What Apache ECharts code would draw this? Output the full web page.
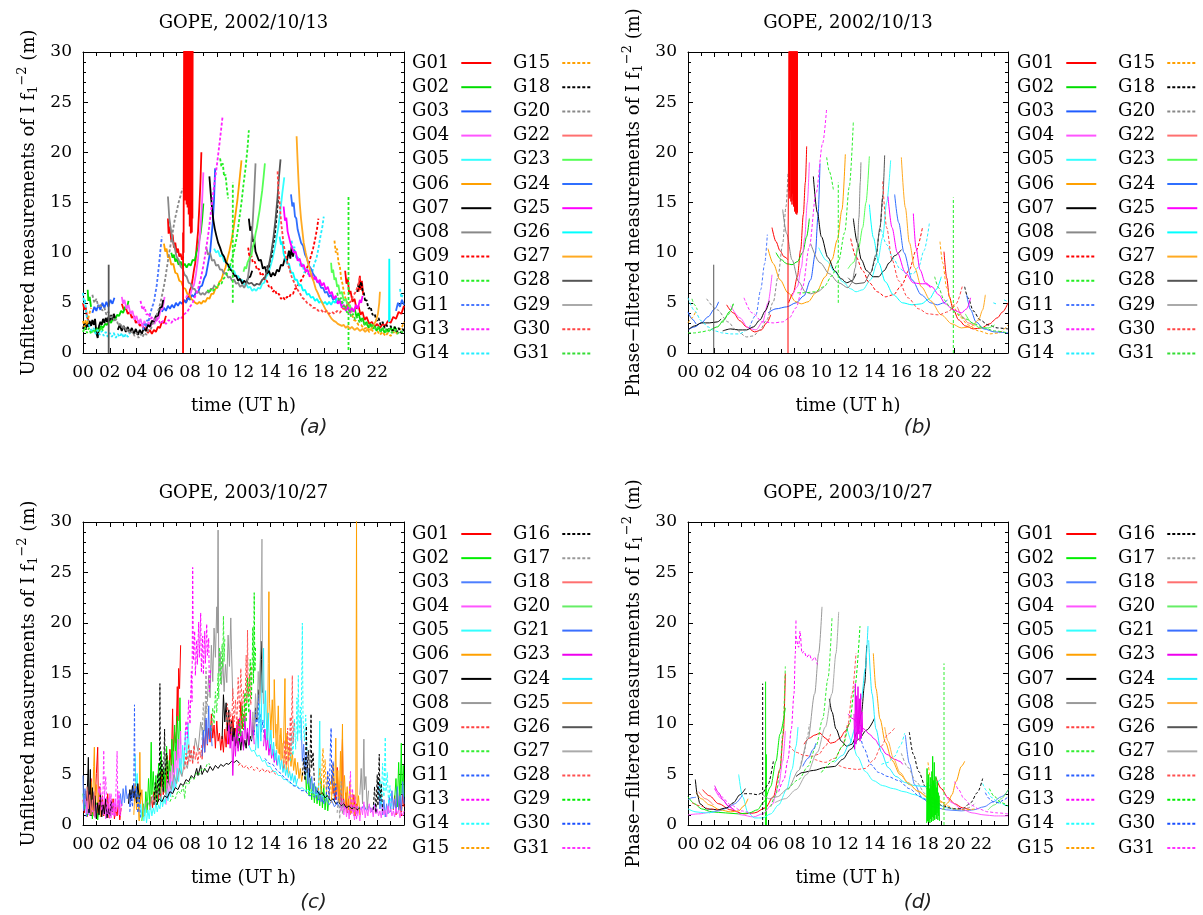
<!DOCTYPE html>
<html><head><meta charset="utf-8">
<script src="https://cdn.jsdelivr.net/npm/echarts@6/dist/echarts.min.js"></script>
<style>html,body{margin:0;padding:0;background:#fff}#c{width:1203px;height:915px}</style>
</head><body><div id="c"></div>
<script>
// ---------------- tick labels / texts ----------------
const xTickLabels = ['00','02','04','06','08','10','12','14','16','18','20','22'];
const titles = ['GOPE, 2002/10/13','GOPE, 2002/10/13','GOPE, 2003/10/27','GOPE, 2003/10/27'];
const yNames = ['Unfiltered measurements of I f{sub|1}{sup|−2} (m)','Phase−filtered measurements of I f{sub|1}{sup|−2} (m)','Unfiltered measurements of I f{sub|1}{sup|−2} (m)','Phase−filtered measurements of I f{sub|1}{sup|−2} (m)'];
const tags = ['(a)','(b)','(c)','(d)'];
const satsAB = ['G01','G02','G03','G04','G05','G06','G07','G08','G09','G10','G11','G13','G14','G15','G18','G20','G22','G23','G24','G25','G26','G27','G28','G29','G30','G31'];
const satsCD = ['G01','G02','G03','G04','G05','G06','G07','G08','G09','G10','G11','G13','G14','G15','G16','G17','G18','G20','G21','G23','G24','G25','G26','G27','G28','G29','G30','G31'];

// ---------------- panel (b): 2002/10/13 phase-filtered ----------------
const B_G01 = [
 [[2.9,4.8],[3.4,4.0],[3.9,3.2],[4.4,2.6],[5.0,2.1],[5.5,2.3],[5.9,3.0],[6.2,3.8]],
 [[6.3,12.5],[6.6,11.1],[6.9,10.2],[7.2,9.6],[7.5,9.3]],
 [[7.55,5.0],[7.9,6.0],[8.2,7.6],[8.45,10.3],[8.65,13.8],[8.8,17.0],[8.9,20.6]],
 [[19.2,10.1],[19.4,7.5],[19.6,5.6],[19.9,4.3],[20.3,3.3],[20.8,2.7],[21.4,2.4],[22.0,2.5],[22.6,2.9],[23.2,3.5],[23.6,4.1],[24.0,5.0]]
];
const B_BAND = [[7.50,0.0],[7.50,9.3],[7.52,9.3],[7.58,31],[7.60,16.2],[7.62,31],[7.64,15.4],[7.66,31],[7.68,22.2],[7.70,31],[7.72,15.1],[7.74,31],[7.76,15.6],[7.78,31],[7.80,14.8],[7.82,31],[7.84,15.9],[7.86,31],[7.88,15.2],[7.90,31],[7.92,14.6],[7.94,31],[7.96,15.3],[7.98,31],[8.00,14.1],[8.02,31],[8.04,14.9],[8.06,31],[8.08,13.9],[8.10,31],[8.12,14.3],[8.14,31],[8.16,13.8],[8.18,31],[8.20,14.0],[8.21,31]];
const B_G02 = [
 [[1.6,2.2],[2.2,2.6],[2.7,3.3],[3.1,4.1],[3.4,4.9]],
 [[6.6,10.0],[7.0,9.3],[7.4,8.9],[7.8,8.8],[8.2,9.1],[8.6,10.0],[8.9,11.6],[9.1,13.4]]
];
const B_G03 = [
 [[0,2.3],[0.5,2.6],[1.0,3.0],[1.5,3.6],[2.0,4.4],[2.3,5.1]],
 [[0,4.1],[0.3,3.4],[0.6,2.9]],
 [[6.0,4.0],[6.6,4.4],[7.4,4.6],[8.1,5.0],[8.7,5.7],[9.2,7.3],[9.55,9.9],[9.75,13.6],[9.9,18.9]]
];
const B_G04 = [
 [[3.2,4.7],[3.9,3.5],[4.5,2.5],[5.1,2.3],[5.6,3.1],[6.0,5.0],[6.3,7.8]],
 [[7.8,5.6],[8.2,6.6],[8.5,8.5],[8.75,11.5],[8.95,15.0],[9.1,19.0]]
];
const B_G05 = [[[9.8,10.5],[10.4,9.2],[11.0,8.1],[11.6,7.1],[12.2,6.4],[12.6,6.1],[13.1,6.3],[13.7,7.3],[14.2,9.0],[14.6,11.5],[14.9,15.0],[15.2,19.2]]];
const B_G06 = [[[6.0,10.4],[6.4,8.9],[6.9,7.3],[7.5,6.0],[8.1,5.1],[8.5,4.9],[9.0,5.1],[9.6,6.0],[10.3,7.6],[10.8,9.3],[11.2,11.3],[11.55,14.3],[11.8,19.8]]];
const B_G07 = [
 [[0,2.3],[0.5,2.7],[1.0,3.0],[1.6,3.0],[2.2,3.1],[2.5,3.4]],
 [[2.6,2.2],[3.2,2.4],[3.8,2.3],[4.4,2.3],[4.9,2.6],[5.4,3.3],[5.8,4.2],[6.1,5.2]],
 [[9.4,17.6],[9.7,14.0],[10.0,11.6],[10.5,9.5],[11.0,8.2],[11.5,7.4],[11.9,7.0],[12.3,7.2],[12.6,7.9]],
 [[12.4,13.4],[12.7,11.0],[13.0,9.3],[13.4,8.2],[13.9,7.6],[14.3,7.6],[14.7,8.2],[15.1,9.0],[15.5,9.7],[16.0,10.3]]
];
const B_G08 = [
 [[7.1,14.3],[7.4,11.9],[7.8,9.3],[8.3,7.1],[8.8,6.1],[9.2,5.9],[9.7,6.1],[10.2,6.6]],
 [[9.2,10.9],[9.9,9.0],[10.6,7.9],[11.3,7.0],[12.0,6.5],[12.3,7.0],[12.55,8.5],[12.7,10.5],[12.82,13.5],[12.92,17.0],[12.97,19.0]]
];
const B_G09 = [[[12.2,11.4],[12.6,9.6],[13.1,8.2],[13.6,7.0],[14.2,6.1],[14.8,5.6],[15.4,5.8],[16.0,6.7],[16.6,8.3],[17.1,10.2],[17.6,12.6]]];
const B_G10 = [
 [[0,2.0],[0.5,2.0],[1.0,2.1],[1.6,2.3]],
 [[0.3,5.4],[0.5,4.8],[0.7,4.3]],
 [[10.4,19.5],[10.6,18.1],[10.9,16.3]],
 [[11.27,5.0],[11.27,17.0]],
 [[8.2,6.0],[8.8,6.0],[9.5,6.1],[10.2,6.6],[10.8,7.7],[11.3,9.2],[11.75,12.0],[12.1,16.6],[12.4,23.0]],
 [[19.9,0],[19.9,15.5]]
];
const B_G11 = [[[4.6,2.5],[5.1,3.8],[5.45,6.3],[5.75,8.9],[5.95,11.8]]];
const B_G13 = [[[4.2,5.5],[4.8,4.0],[5.6,3.1],[6.4,3.0],[7.1,3.1],[7.6,3.5],[8.1,4.5],[8.6,6.6],[9.1,10.6],[9.6,15.9],[10.1,20.9],[10.4,24.4]]];
const B_G14 = [
 [[0,5.5],[0.5,4.2],[1.0,3.2],[1.5,2.6],[2.0,2.2],[2.6,2.0],[3.2,1.9],[3.8,1.9],[4.3,2.2]],
 [[14.5,12.3],[14.9,10.8],[15.4,9.4],[15.9,8.4],[16.4,7.9],[16.9,7.9],[17.3,8.6],[17.7,10.2],[18.1,12.9]],
 [[22.9,5.0],[23.1,4.9]],
 [[23.7,5.3],[24.0,5.1]]
];
const B_G15 = [
 [[0,3.0],[0.3,3.5],[0.6,4.2]],
 [[18.9,11.1],[19.1,9.0],[19.4,6.5],[19.8,4.9],[20.4,3.6],[21.0,2.8],[21.8,2.2],[22.6,1.9],[23.3,2.0],[24.0,2.8]]
];
const B_G18 = [
 [[13.8,8.2],[14.1,9.5],[14.35,12.0],[14.6,15.7]],
 [[20.75,6.6],[21.0,5.5],[21.4,4.2],[21.9,3.3],[22.5,2.8],[23.2,2.5],[24.0,2.4]]
];
const B_G20 = [[[1.4,5.4],[2.2,4.3],[3.0,3.1],[3.6,2.3],[4.4,1.6],[4.9,1.7],[5.4,2.3],[5.9,3.3],[6.4,5.1],[6.75,7.6],[7.1,10.9],[7.35,14.6],[7.5,17.9]]];
const B_G22 = [[[20.2,4.6],[20.6,3.6],[21.0,3.0],[21.5,2.7]]];
const B_G23 = [
 [[12.0,8.4],[12.4,9.0],[12.8,10.5],[13.1,12.5],[13.35,15.0],[13.6,19.6]],
 [[20.8,3.9],[21.3,3.0],[21.9,2.5],[22.5,2.5],[23.0,2.8]]
];
const B_G24 = [
 [[15.5,15.8],[15.8,13.0],[16.2,10.0],[16.8,7.3],[17.5,5.8],[18.2,5.0],[18.7,4.8],[19.2,5.0],[19.45,5.3]],
 [[20.9,5.8],[21.2,4.3],[21.6,3.1],[22.2,2.4],[23.0,2.1],[24.0,2.0]]
];
const B_G25 = [
 [[15.0,15.6],[15.3,12.5],[15.7,10.0],[16.3,8.0],[16.9,7.0],[17.4,6.9],[17.8,6.9],[18.2,6.5]],
 [[16.9,13.9],[17.1,10.5],[17.4,8.3],[17.8,7.0],[18.3,6.6],[18.8,5.8],[19.3,4.9],[19.9,4.3],[20.5,4.0],[20.9,4.4],[21.2,5.5]]
];
const B_G26 = [[[13.6,14.8],[13.9,11.5],[14.3,9.0],[14.8,7.1],[15.4,5.8],[16.1,5.0],[16.8,4.8],[17.5,4.9],[18.1,5.4],[18.6,6.3],[19.0,7.6]]];
const B_G27 = [[[16.0,19.5],[16.3,14.5],[16.6,11.0],[17.0,8.5],[17.5,6.6],[18.2,5.2],[19.0,3.8],[19.8,2.9],[20.5,2.5],[21.2,2.6],[21.8,3.3],[22.1,4.3],[22.3,5.8]]];
const B_G28 = [
 [[1.93,0],[1.93,8.8]],
 [[12.0,7.5],[12.6,6.9],[13.2,7.0],[13.7,8.0],[14.1,9.8],[14.4,12.5],[14.6,15.5],[14.75,19.7]]
];
const B_G30 = [[[14.6,17.1],[14.9,12.5],[15.3,9.3],[15.8,7.2],[16.5,5.5],[17.3,4.4],[18.0,3.9],[18.8,3.8],[19.5,4.1],[20.1,4.9],[20.6,6.8]]];
const B_G31 = [
 [[2.6,3.0],[3.0,3.8],[3.4,4.9]],
 [[18.5,7.6],[18.8,6.5],[19.2,5.3],[19.7,4.5],[20.2,3.9],[20.8,3.4],[21.5,2.9],[22.2,2.5],[23.0,2.2],[24.0,2.0]]
];

// ---------------- panel (a): 2002/10/13 unfiltered ----------------
const A_G01 = [
 [[0,5.0],[0.1,4.3],[0.2,4.6],[0.3,3.6],[0.45,3.1]],
 [[2.9,4.9],[3.05,4.3],[3.2,4.5],[3.35,3.9],[3.5,4.1],[3.65,3.5],[3.8,3.7],[3.95,3.0],[4.1,3.2],[4.25,2.7],[4.4,2.9],[4.55,2.4],[4.7,2.6],[4.85,2.0],[5.0,2.3],[5.15,1.9],[5.3,2.3],[5.45,2.1],[5.6,2.6],[5.75,2.5],[5.9,3.1],[6.05,3.0],[6.2,3.7]],
 [[6.35,13.4],[6.4,11.9],[6.5,12.6],[6.6,11.2],[6.7,11.8],[6.8,10.5],[6.9,11.0],[7.0,10.0],[7.1,10.4],[7.2,9.6],[7.3,9.9],[7.4,9.3],[7.5,9.6]],
 [[7.6,5.2],[7.7,5.0],[7.8,5.6],[7.9,5.4],[8.0,6.3],[8.1,6.6],[8.2,7.4],[8.3,8.3],[8.4,9.0],[8.5,10.6],[8.6,12.1],[8.7,14.6],[8.78,17.0],[8.85,20.0]],
 [[19.6,8.2],[19.7,6.9],[19.8,7.4],[19.9,5.9],[20.0,6.2],[20.15,5.1],[20.3,5.4],[20.45,4.4],[20.6,4.7],[20.75,3.8],[20.9,4.1],[21.05,3.3],[21.2,3.6],[21.4,2.9],[21.6,3.1],[21.8,2.6],[22.0,2.9],[22.2,2.5],[22.4,2.9],[22.6,2.7],[22.8,3.2],[23.0,3.0],[23.2,3.6],[23.4,3.4],[23.6,4.1],[23.8,3.9],[24.0,4.7]],
 [[20.6,6.1],[20.7,7.7],[20.75,6.3],[20.85,7.2],[20.95,5.8]]
];
const A_BAND = [[7.48,0],[7.48,12.0],[7.52,10],[7.56,31],[7.58,15.6],[7.60,31],[7.62,16.5],[7.64,31],[7.66,15.2],[7.68,31],[7.70,16.0],[7.72,31],[7.74,14.8],[7.76,31],[7.78,15.9],[7.80,31],[7.82,14.5],[7.84,31],[7.86,15.1],[7.88,31],[7.90,13.8],[7.92,31],[7.94,14.2],[7.96,31],[7.98,12.6],[8.00,31],[8.02,13.1],[8.04,31],[8.06,11.9],[8.08,31],[8.10,12.5],[8.12,31],[8.14,12.0],[8.16,31],[8.18,13.4],[8.20,31]];
const A_G02 = [
 [[0.35,6.3],[0.4,5.2],[0.5,5.6],[0.6,4.6]],
 [[0.9,2.1],[1.05,2.5],[1.2,2.2],[1.35,2.7],[1.5,2.5],[1.65,2.9],[1.8,2.8],[1.95,3.2],[2.1,3.0],[2.25,3.5],[2.4,3.3],[2.55,3.8],[2.7,3.7],[2.85,4.2],[3.0,4.0],[3.15,4.6],[3.3,4.5],[3.4,5.2]],
 [[6.6,10.0],[6.7,9.5],[6.8,9.8],[6.9,9.1],[7.0,9.4],[7.15,8.8],[7.3,9.1],[7.45,8.6],[7.6,8.9],[7.75,8.5],[7.9,8.9],[8.05,8.7],[8.2,9.3],[8.35,9.2],[8.5,10.1],[8.6,10.4],[8.7,11.3],[8.8,12.0],[8.9,13.2],[9.0,14.9]],
 [[20.3,4.5],[20.45,3.6],[20.6,4.0],[20.75,3.2],[20.9,3.5],[21.05,2.8],[21.2,3.1],[21.35,2.5],[21.5,2.9],[21.65,2.4],[21.8,2.7],[21.95,2.2],[22.1,2.6],[22.25,2.1],[22.4,2.5],[22.55,2.0],[22.7,2.4],[22.85,2.1],[23.0,2.5],[23.15,2.2],[23.3,2.6],[23.45,2.3]]
];
const A_G03 = [
 [[0.7,4.0],[0.85,4.6],[1.0,4.2],[1.15,4.8],[1.3,4.3],[1.45,5.0],[1.6,4.5],[1.75,5.1],[1.9,4.6],[2.05,5.3],[2.2,4.9],[2.35,5.5]],
 [[5.9,4.1],[6.05,4.5],[6.2,4.2],[6.35,4.7],[6.5,4.4],[6.65,4.8],[6.8,4.5],[6.95,5.0],[7.1,4.7],[7.25,5.1],[7.4,4.9],[7.55,5.3],[7.7,5.0],[7.85,5.5],[8.0,5.3],[8.15,5.8],[8.3,5.6],[8.45,6.1],[8.6,6.0],[8.75,6.6],[8.9,6.7],[9.05,7.4],[9.2,7.8],[9.35,8.9],[9.5,10.0],[9.6,11.5],[9.7,13.0],[9.8,15.4],[9.88,18.4]]
];
const A_G04 = [
 [[2.9,5.6],[3.0,4.9],[3.1,5.3],[3.25,4.4],[3.4,4.8],[3.55,3.9],[3.7,4.2],[3.85,3.3],[4.0,3.7],[4.15,2.9],[4.3,3.4],[4.45,2.6],[4.6,3.2],[4.75,2.5],[4.9,3.1],[5.05,2.6],[5.2,3.2],[5.35,2.9],[5.5,3.6],[5.65,3.4],[5.8,4.3],[5.95,4.4],[6.1,5.6]],
 [[7.7,5.5],[7.85,5.9],[8.0,5.7],[8.15,6.4],[8.3,6.8],[8.45,7.9],[8.6,9.4],[8.7,11.0],[8.8,12.8],[8.9,15.0],[9.0,18.0]]
];
const A_G05 = [[[9.8,10.4],[9.95,10.0],[10.1,10.2],[10.25,9.6],[10.4,9.8],[10.55,9.1],[10.7,9.2],[10.85,8.6],[11.0,8.7],[11.15,8.1],[11.3,8.2],[11.45,7.6],[11.6,7.7],[11.75,7.2],[11.9,7.3],[12.05,6.8],[12.2,6.9],[12.35,6.5],[12.5,6.6],[12.65,6.2],[12.8,6.4],[12.95,6.2],[13.1,6.5],[13.25,6.4],[13.4,6.9],[13.55,7.0],[13.7,7.6],[13.85,7.9],[14.0,8.6],[14.15,9.3],[14.3,10.2],[14.45,11.3],[14.6,12.5],[14.75,14.1],[14.9,15.9],[15.05,17.5]]];
const A_G06 = [[[6.05,10.9],[6.15,10.1],[6.25,10.4],[6.35,9.5],[6.45,9.7],[6.6,8.8],[6.75,8.9],[6.9,8.0],[7.05,7.9],[7.2,7.2],[7.35,7.1],[7.5,6.5],[7.65,6.4],[7.8,5.9],[7.95,5.8],[8.1,5.4],[8.25,5.2],[8.4,5.0],[8.55,4.9],[8.7,5.1],[8.85,4.9],[9.0,5.2],[9.15,5.1],[9.3,5.5],[9.45,5.4],[9.6,5.9],[9.75,5.9],[9.9,6.4],[10.05,6.5],[10.2,7.1],[10.35,7.3],[10.5,8.0],[10.65,8.5],[10.8,9.4],[10.95,10.2],[11.1,11.2],[11.25,12.4],[11.4,13.8],[11.55,15.3],[11.7,17.2],[11.85,19.2]]];
const A_G07 = [
 [[0,2.4],[0.1,2.9],[0.2,2.3],[0.3,3.0],[0.4,2.6],[0.5,3.2],[0.6,2.7],[0.7,3.3],[0.8,2.8],[0.9,3.4],[1.0,2.0],[1.1,1.5],[1.2,2.7],[1.3,3.1],[1.4,2.8],[1.5,3.4],[1.6,3.0],[1.7,3.5],[1.8,3.1],[1.9,3.6],[2.0,3.2],[2.1,3.8],[2.2,3.3],[2.3,3.9],[2.4,3.5]],
 [[2.6,2.3],[2.75,2.8],[2.9,2.2],[3.05,2.7],[3.2,2.1],[3.35,2.6],[3.5,2.0],[3.65,2.5],[3.8,1.9],[3.95,2.4],[4.1,1.8],[4.25,2.3],[4.4,1.9],[4.55,2.5],[4.7,2.2],[4.85,2.8],[5.0,2.6],[5.15,3.2],[5.3,3.1],[5.45,3.7],[5.6,3.7],[5.75,4.5],[5.9,4.6],[6.0,5.3]],
 [[9.45,17.6],[9.55,15.9],[9.65,14.4],[9.75,13.2],[9.85,12.4],[9.95,11.8],[10.1,11.0],[10.25,10.5],[10.4,9.9],[10.55,9.6],[10.7,9.0],[10.85,8.8],[11.0,8.3],[11.15,8.2],[11.3,7.7],[11.45,7.7],[11.6,7.2],[11.75,7.4],[11.9,6.9],[12.05,7.2],[12.2,7.0],[12.35,7.5],[12.5,7.6],[12.65,8.2]],
 [[12.4,13.4],[12.5,12.2],[12.6,12.6],[12.7,11.1],[12.8,11.3],[12.9,10.1],[13.0,10.2],[13.15,9.2],[13.3,9.3],[13.45,8.4],[13.6,8.6],[13.75,7.9],[13.9,8.2],[14.05,7.6],[14.2,8.0],[14.35,7.7],[14.5,8.3],[14.65,8.1],[14.8,8.8],[14.95,8.7],[15.1,9.5],[15.25,9.2],[15.4,10.2],[15.5,9.4],[15.6,10.6],[15.7,9.6],[15.8,10.3]]
];
const A_G08 = [
 [[6.35,15.6],[6.45,13.5],[6.55,12.5],[6.7,11.2],[6.85,10.5],[7.0,9.6],[7.15,9.3],[7.3,8.6],[7.45,8.4],[7.6,7.8],[7.75,7.6],[7.9,7.0],[8.05,6.9],[8.2,6.4],[8.35,6.4],[8.5,6.0],[8.65,6.1],[8.8,5.8],[8.95,6.0],[9.1,5.8],[9.25,6.1],[9.4,6.0],[9.55,6.4],[9.7,6.4],[9.85,6.8]],
 [[9.2,10.6],[9.35,9.8],[9.5,10.0],[9.65,9.2],[9.8,9.3],[9.95,8.7],[10.1,8.8],[10.25,8.3],[10.4,8.3],[10.55,7.9],[10.7,8.0],[10.85,7.5],[11.0,7.6],[11.15,7.2],[11.3,7.3],[11.45,6.9],[11.6,7.0],[11.75,6.6],[11.9,6.8],[12.05,6.5],[12.2,6.9],[12.3,7.3],[12.4,8.2],[12.5,9.5],[12.6,11.2],[12.7,13.3],[12.8,15.9],[12.9,18.9]]
];
const A_G09 = [[[12.35,10.5],[12.45,9.5],[12.55,9.9],[12.7,9.0],[12.85,9.1],[13.0,8.3],[13.15,8.4],[13.3,7.7],[13.45,7.9],[13.6,7.2],[13.75,7.2],[13.9,6.6],[14.05,6.7],[14.2,6.1],[14.35,6.3],[14.5,5.8],[14.65,5.9],[14.8,5.4],[14.95,5.6],[15.1,5.3],[15.25,5.6],[15.4,5.5],[15.55,5.9],[15.7,5.9],[15.85,6.4],[16.0,6.5],[16.15,7.0],[16.3,7.2],[16.45,7.6],[16.6,8.0],[16.75,8.5],[16.9,9.0],[17.05,9.7],[17.2,10.4],[17.35,11.3],[17.5,12.4],[17.6,13.4]]];
const A_G10 = [
 [[0,2.1],[0.15,2.6],[0.3,2.0],[0.45,2.5],[0.6,1.9],[0.75,2.4],[0.9,2.0],[1.05,2.5],[1.2,2.1],[1.35,2.6],[1.5,2.2]],
 [[10.25,19.4],[10.35,18.6],[10.45,18.9],[10.55,17.6],[10.65,17.8],[10.75,16.5],[10.85,15.4]],
 [[11.2,5.0],[11.2,17.0]],
 [[9.3,6.3],[9.45,6.0],[9.6,6.4],[9.75,6.2],[9.9,6.6],[10.05,6.5],[10.2,7.0],[10.35,6.9],[10.5,7.4],[10.65,7.6],[10.8,8.1],[10.95,8.5],[11.1,9.2],[11.25,9.9],[11.4,10.9],[11.55,12.0],[11.7,13.5],[11.85,15.0],[12.0,16.8],[12.15,18.4],[12.3,20.4],[12.4,22.2]],
 [[19.85,0.3],[19.85,15.6]]
];
const A_G11 = [[[4.5,2.3],[4.6,2.9],[4.7,2.6],[4.8,3.3],[4.9,3.1],[5.0,3.8],[5.1,3.9],[5.2,4.7],[5.3,5.0],[5.4,5.9],[5.5,6.6],[5.6,7.8],[5.7,9.0],[5.8,10.4],[5.9,11.6]]];
const A_G13 = [[[4.3,5.2],[4.45,4.3],[4.6,4.6],[4.75,3.8],[4.9,4.0],[5.05,3.4],[5.2,3.6],[5.4,3.1],[5.6,3.4],[5.8,2.9],[6.0,3.2],[6.2,2.9],[6.4,3.3],[6.6,3.0],[6.8,3.4],[7.0,3.2],[7.2,3.6],[7.4,3.5],[7.6,3.9],[7.8,4.1],[8.0,4.6],[8.2,5.0],[8.4,5.7],[8.6,6.4],[8.8,7.4],[9.0,8.7],[9.2,10.3],[9.4,12.2],[9.6,14.5],[9.8,16.6],[10.0,18.6],[10.2,20.8],[10.43,23.5]]];
const A_G14 = [
 [[0,6.0],[0.08,4.9],[0.15,5.3],[0.25,3.9],[0.35,3.2],[0.5,2.6],[0.65,2.2],[0.8,2.5],[0.95,1.9],[1.1,2.3],[1.25,1.8],[1.4,2.2],[1.55,1.7],[1.7,2.1],[1.85,1.6],[2.0,2.0],[2.15,1.6],[2.3,2.0],[2.45,1.5],[2.6,1.9],[2.75,1.6],[2.9,2.0],[3.05,1.5],[3.2,1.9],[3.35,1.6],[3.5,2.0]],
 [[15.6,11.2],[15.7,10.1],[15.8,10.6],[15.95,9.3],[16.1,9.6],[16.25,8.6],[16.4,8.9],[16.55,8.0],[16.7,8.4],[16.85,7.8],[17.0,8.3],[17.15,8.1],[17.3,8.9],[17.45,9.4],[17.6,10.4],[17.75,11.6],[17.9,12.6],[18.0,13.6]],
 [[23.7,6.4],[23.8,5.5],[23.9,5.8]]
];
const A_G15 = [
 [[0,3.2],[0.1,2.6],[0.2,3.3],[0.3,2.8],[0.45,3.8],[0.6,4.5]],
 [[18.8,11.2],[18.9,10.0],[19.0,10.4],[19.1,9.0],[19.2,8.7],[19.3,7.4],[19.4,6.9],[19.5,6.1],[19.65,5.3],[19.8,4.9],[19.95,4.1],[20.1,3.9],[20.25,3.3],[20.4,3.2],[20.6,2.8],[20.8,2.8],[21.0,2.4],[21.2,2.5],[21.4,2.1],[21.6,2.3],[21.8,1.9],[22.0,2.2],[22.2,1.8],[22.4,2.1],[22.6,1.7],[22.8,2.0],[23.0,1.7],[23.2,2.1],[23.4,1.9],[23.6,2.4],[23.8,2.4],[24.0,3.1]]
];
const A_G18 = [
 [[13.7,8.0],[13.8,8.7],[13.9,8.5],[14.0,9.4],[14.1,9.6],[14.2,10.7],[14.3,11.3],[14.4,12.6],[14.5,14.0],[14.6,15.6]],
 [[20.5,6.1],[20.6,6.9],[20.7,6.5],[20.8,7.1],[20.9,6.2],[21.0,6.0],[21.1,5.1],[21.2,5.3],[21.35,4.4],[21.5,4.6],[21.65,3.8],[21.8,3.9],[21.95,3.2],[22.1,3.5],[22.25,2.8],[22.4,3.1],[22.55,2.5],[22.7,2.8],[22.85,2.3],[23.0,2.7],[23.15,2.2],[23.3,2.6],[23.45,2.1],[23.6,2.5],[23.75,2.0],[23.9,2.4],[24.0,2.2]]
];
const A_G20 = [[[0.7,5.8],[0.85,5.0],[1.0,5.4],[1.15,4.6],[1.3,4.9],[1.45,4.2],[1.6,4.5],[1.75,3.8],[1.9,4.1],[2.05,3.4],[2.2,3.7],[2.35,3.1],[2.5,3.4],[2.65,2.7],[2.8,3.0],[2.95,2.4],[3.1,2.7],[3.25,2.1],[3.4,2.4],[3.55,1.9],[3.7,2.2],[3.85,1.7],[4.0,2.0],[4.15,1.5],[4.3,1.9],[4.45,1.6],[4.6,2.0],[4.75,1.8],[4.9,2.3],[5.05,2.3],[5.2,2.9],[5.35,3.1],[5.5,3.8],[5.65,4.3],[5.8,5.1],[5.95,6.0],[6.1,7.0],[6.25,8.3],[6.4,9.6],[6.55,10.8],[6.7,12.0],[6.85,13.2],[7.0,14.1],[7.15,15.0],[7.3,15.7],[7.44,16.4]]];
const A_G23 = [
 [[12.0,8.1],[12.1,8.6],[12.2,8.4],[12.3,9.0],[12.4,8.9],[12.5,9.6],[12.6,9.8],[12.7,10.6],[12.8,11.0],[12.9,11.9],[13.0,12.5],[13.1,13.4],[13.2,14.2],[13.3,15.2],[13.4,16.2],[13.5,17.5],[13.6,18.9]],
 [[18.55,9.0],[18.6,8.0],[18.7,8.3],[18.8,7.3],[18.9,7.5],[19.0,6.6],[19.1,6.8],[19.2,5.9],[19.35,6.1],[19.5,5.2],[19.65,5.4],[19.8,4.6],[19.95,4.8],[20.1,4.1],[20.25,4.3]]
];
const A_G24 = [
 [[15.55,15.8],[15.65,14.6],[15.75,15.0],[15.85,13.6],[15.95,13.4],[16.05,12.3],[16.15,12.2],[16.3,11.0],[16.45,10.7],[16.6,9.8],[16.75,9.4],[16.9,8.7],[17.05,8.4],[17.2,7.9],[17.35,7.6],[17.5,7.1],[17.65,7.0],[17.8,6.5],[17.95,6.5],[18.1,6.0],[18.25,6.1],[18.4,5.6],[18.55,5.8],[18.7,5.3],[18.85,5.5],[19.0,5.0],[19.15,5.3],[19.3,4.8],[19.45,5.1]],
 [[23.4,4.2],[23.55,5.0],[23.7,4.6],[23.85,5.3],[24.0,4.8]]
];
const A_G25 = [[[15.0,14.6],[15.1,13.2],[15.2,13.5],[15.3,12.1],[15.4,12.2],[15.5,11.0],[15.6,11.1],[15.75,10.0],[15.9,10.1],[16.05,9.2],[16.2,9.4],[16.35,8.6],[16.5,8.8],[16.65,8.1],[16.8,8.3],[16.95,7.6],[17.1,7.9],[17.25,7.3],[17.4,7.6],[17.55,7.0],[17.7,7.3],[17.85,6.7],[18.0,7.0],[18.15,6.3],[18.3,6.6],[18.45,5.9],[18.6,6.1],[18.75,5.4],[18.9,5.7],[19.05,4.9],[19.2,5.2],[19.35,4.5],[19.5,4.8],[19.65,4.2],[19.8,4.6],[19.95,4.0],[20.1,4.5],[20.25,4.1],[20.4,4.8],[20.55,4.4],[20.7,5.3],[20.8,5.0],[20.9,5.7]]];
const A_G26 = [
 [[22.88,3.1],[22.9,9.4],[22.93,3.3]],
 [[14.7,11.6],[14.8,10.8],[14.9,11.1],[15.0,9.9],[15.1,10.0],[15.25,8.9],[15.4,8.9],[15.55,8.0],[15.7,8.0],[15.85,7.3],[16.0,7.3],[16.15,6.7],[16.3,6.8],[16.45,6.2],[16.6,6.3],[16.75,5.8],[16.9,5.9],[17.05,5.5],[17.2,5.6],[17.35,5.2],[17.5,5.4],[17.65,5.0],[17.8,5.2],[17.95,4.9],[18.1,5.1],[18.25,4.8],[18.4,5.1],[18.55,4.8],[18.7,5.2],[18.85,5.0],[19.0,5.5]]
];
const A_G27 = [[[15.97,21.6],[16.05,19.0],[16.12,17.0],[16.2,15.0],[16.3,13.4],[16.4,12.2],[16.5,11.0],[16.65,10.0],[16.8,9.1],[16.95,8.4],[17.1,7.6],[17.25,7.1],[17.4,6.4],[17.55,6.0],[17.7,5.5],[17.85,5.1],[18.0,4.7],[18.15,4.3],[18.3,4.0],[18.45,3.7],[18.6,3.4],[18.75,3.2],[18.9,3.1],[19.05,2.9],[19.2,2.8],[19.35,2.7],[19.5,2.8],[19.65,2.5],[19.8,2.7],[19.95,2.4],[20.1,2.6],[20.3,2.3],[20.5,2.5],[20.7,2.2],[20.9,2.4],[21.1,2.1],[21.3,2.4],[21.5,2.3],[21.7,2.7],[21.9,3.2],[22.05,3.9],[22.15,5.0],[22.2,6.1]]];
const A_G28 = [
 [[1.92,0],[1.92,8.8]],
 [[12.2,7.2],[12.4,6.9],[12.6,7.0],[12.8,6.7],[13.0,6.9],[13.2,6.8],[13.4,7.3],[13.6,7.5],[13.8,8.3],[13.95,9.1],[14.1,10.2],[14.25,11.6],[14.4,13.4],[14.55,15.6],[14.65,17.5],[14.77,19.3]]
];
const A_G30 = [[[14.55,18.1],[14.6,16.4],[14.7,15.0],[14.8,13.2],[14.9,12.0],[15.0,10.8],[15.15,9.8],[15.3,8.9],[15.45,8.3],[15.6,7.6],[15.8,7.0],[16.0,6.4],[16.2,6.0],[16.4,5.5],[16.6,5.3],[16.8,4.9],[17.0,4.8],[17.2,4.5],[17.4,4.5],[17.6,4.2],[17.8,4.3],[18.0,4.0],[18.2,4.2],[18.4,3.9],[18.6,4.1],[18.8,3.9],[19.0,4.2],[19.2,4.0],[19.4,4.4],[19.6,4.4],[19.8,4.9],[20.0,5.1],[20.2,5.7],[20.4,6.1],[20.6,6.9],[20.7,7.6]]];
const A_G31 = [[[19.0,6.0],[19.15,5.2],[19.3,5.5],[19.45,4.6],[19.6,4.8],[19.75,4.0],[19.9,4.3],[20.05,3.6],[20.2,3.9],[20.35,3.3],[20.5,3.6],[20.7,3.0],[20.9,3.3],[21.1,2.7],[21.3,3.0],[21.5,2.5],[21.7,2.8],[21.9,2.3],[22.1,2.6],[22.3,2.1],[22.5,2.5],[22.7,2.1],[22.9,2.4],[23.1,2.0],[23.3,2.3],[23.5,1.9],[23.7,2.2],[24.0,2.0]]];

// ---------------- panel (d): 2003/10/27 phase-filtered ----------------
const D_G01 = [
 [[1.1,3.5],[1.6,2.9],[2.3,2.1],[3.2,1.5],[4.2,1.1],[5.0,1.2],[5.8,1.7],[6.4,2.8],[6.9,5.5],[7.15,9.0],[7.3,15.0]],
 [[8.7,8.0],[9.1,8.6],[9.5,8.9],[9.9,9.1],[10.3,8.6],[10.7,8.1],[11.0,8.2],[11.4,8.6],[11.8,9.3],[12.1,10.1]],
 [[18.6,4.7],[19.0,3.6],[19.5,2.7],[20.0,2.1],[20.6,1.7],[21.2,1.5]]
];
const D_G02 = [
 [[0,2.8],[0.5,2.1],[1.0,1.6],[1.8,1.3],[2.8,1.2],[3.8,1.1],[4.6,1.2],[5.2,1.5],[5.7,2.3],[6.2,3.8],[6.6,6.3],[6.9,9.0],[7.3,11.6]],
 [[5.82,0],[5.82,14.2]],
 [[5.88,0],[5.88,7.0]]
];
const D_GREEN_BAND = [[17.9,0.2],[17.93,5.6],[17.96,0.4],[17.99,4.2],[18.02,0.3],[18.05,5.0],[18.08,0.5],[18.11,3.6],[18.14,0.2],[18.17,4.7],[18.2,0.6],[18.23,3.9],[18.26,0.3],[18.29,5.3],[18.32,0.8],[18.35,6.8],[18.38,0.4],[18.41,4.4],[18.44,0.7],[18.47,6.2],[18.5,0.5],[18.53,4.0],[18.56,1.0],[18.59,4.8],[18.62,0.6],[18.65,3.7],[18.68,1.2],[18.71,4.3],[18.74,0.5],[18.77,3.2],[18.8,0.9],[18.83,2.9],[18.86,0.4]];
const D_G03 = [
 [[0,2.5],[0.3,2.7],[0.6,2.75]],
 [[1.6,1.2],[2.3,1.4],[3.0,1.7],[3.5,2.1],[4.1,3.0]],
 [[16.3,8.9],[16.6,6.1],[17.0,4.0],[17.6,2.6],[18.4,1.8],[19.4,1.5],[20.5,1.4],[21.4,1.5],[22.2,1.8],[22.9,2.3],[23.5,2.8],[24.0,3.4]]
];
const D_G04 = [
 [[0,1.0],[0.8,1.1],[1.6,1.3]],
 [[2.0,3.6],[2.5,2.6],[3.2,1.7],[4.0,1.0],[4.9,0.8],[5.6,1.1],[6.3,2.0],[6.8,3.9],[7.1,6.3],[7.3,9.3]],
 [[19.3,3.0],[19.8,2.2],[20.5,1.6],[21.3,1.2],[22.2,1.0],[23.0,0.9],[24.0,0.9]]
];
const D_G05 = [
 [[3.8,5.0],[4.1,2.8],[4.5,1.2],[5.0,0.7],[5.6,0.7],[6.2,1.1],[6.8,2.0],[7.4,3.5],[7.8,5.5],[8.1,7.8],[8.25,9.7]],
 [[11.9,9.7],[12.3,8.2],[12.7,6.8],[13.3,5.3],[13.9,4.4],[14.6,3.9],[15.4,3.6],[16.2,3.3],[17.0,3.0],[17.8,2.6],[18.6,2.1],[19.4,1.7],[20.2,1.5]],
 [[0,1.6],[0.6,1.3],[1.3,1.2],[2.0,1.3]]
];
const D_G06 = [
 [[0.6,3.2],[1.0,2.6],[1.6,2.0],[2.4,1.5],[3.2,1.3],[3.8,1.4],[4.2,1.9],[4.5,2.6]],
 [[13.9,17.0],[14.1,13.5],[14.4,10.5],[14.8,8.2],[15.3,6.4],[15.9,5.0],[16.6,4.0],[17.3,3.3],[18.0,2.7],[18.7,2.3],[19.3,2.2]],
 [[19.1,1.5],[19.5,2.2],[19.8,3.0],[20.1,4.3],[20.5,5.8],[20.75,6.3]]
];
const D_G07 = [
 [[0.55,4.5],[0.7,3.0],[0.9,2.1],[1.4,1.6],[2.2,1.5],[2.9,1.7],[3.4,2.2],[3.9,3.0],[4.3,3.6]],
 [[10.6,12.5],[10.8,11.2],[11.1,9.5],[11.5,8.3],[11.9,7.8],[12.3,8.0],[12.7,9.2],[13.0,11.0],[13.25,14.0],[13.4,17.8]],
 [[8.1,4.8],[8.6,5.2],[9.4,5.4],[10.3,5.7],[11.0,5.8],[11.6,6.5],[12.2,7.5],[12.8,8.5],[13.4,9.4],[14.0,10.6]]
];
const D_G08 = [[[5.6,3.0],[6.1,2.6],[6.7,2.8],[7.5,3.6],[8.3,5.4],[9.0,8.5],[9.5,13.0],[9.8,17.0],[10.05,21.6]]];
const D_G09 = [
 [[7.6,7.9],[8.1,7.2],[8.7,6.9],[9.3,6.8],[9.8,7.0],[10.3,7.8],[10.7,9.0]],
 [[0.3,2.2],[0.9,1.9],[1.6,1.6],[2.3,1.5]]
];
const D_G10 = [
 [[7.5,3.5],[8.3,4.5],[9.0,5.8],[9.6,7.8],[10.1,10.5],[10.5,14.5],[10.8,20.5]],
 [[6.2,1.8],[6.6,3.0],[6.9,5.5],[7.1,9.0],[7.3,15.7]],
 [[19.2,0],[19.2,16.0]]
];
const D_G11 = [[[12.8,9.8],[13.2,7.6],[13.7,6.0],[14.3,5.2],[15.0,4.8],[15.8,4.4],[16.6,3.6],[17.4,2.8],[18.2,2.2],[19.0,1.8]]];
const D_G13 = [
 [[6.8,3.3],[7.2,4.5],[7.5,6.5],[7.75,9.5],[7.95,13.0],[8.05,17.0],[8.1,20.3]],
 [[8.1,18.7],[8.3,17.6],[8.4,19.2],[8.55,17.0],[8.7,17.2],[8.9,16.6],[9.1,16.9],[9.3,16.3],[9.5,16.6],[9.7,15.9]]
];
const D_G14 = [
 [[14.5,6.0],[15.0,6.2],[15.5,6.8],[15.9,7.8],[16.25,9.1]],
 [[22.1,4.1],[22.4,3.4],[22.8,2.7],[23.3,2.2],[24.0,1.8]]
];
const D_G15 = [[[18.0,6.2],[18.2,4.6],[18.5,3.3],[18.9,2.4],[19.4,1.9],[20.0,1.6],[20.8,1.5],[21.6,1.6]]];
const D_G16 = [
 [[4.2,3.1],[4.7,3.1],[5.2,3.0],[5.6,3.2],[6.0,4.0],[6.4,6.3]],
 [[5.6,0],[5.6,14.0]],
 [[16.6,9.2],[16.9,7.0],[17.3,5.3],[17.8,3.8],[18.4,2.6],[19.1,1.9],[19.9,1.6],[20.6,1.6],[21.2,2.2],[21.7,3.2],[22.1,4.6]]
];
const D_G17 = [
 [[8.4,5.6],[8.7,7.1],[8.95,8.7],[9.1,10.0]],
 [[16.0,7.1],[16.5,5.7],[17.1,4.3],[17.8,3.1],[18.6,2.2],[19.4,1.7],[20.2,1.5],[21.0,1.7],[21.6,2.2]]
];
const D_G18 = [[[0.8,3.3],[1.3,2.6],[1.9,2.0]]];
const D_G20 = [[[22.5,1.5],[23.0,2.0],[23.5,2.6],[24.0,3.5]]];
const D_G21 = [[[8.6,5.8],[9.0,6.6],[9.4,7.5],[9.6,8.1]]];
const D_G23 = [
 [[12.0,11.0],[12.4,10.5],[12.8,10.0],[13.2,9.5],[13.6,9.0],[14.0,8.5],[14.4,7.8],[14.9,7.0],[15.5,6.5],[15.9,6.3],[16.1,6.0]],
 [[2.0,3.9],[2.3,3.2],[2.6,2.5],[3.0,1.9],[3.5,1.4]]
];
const D_MAG_ZIG = [[12.45,11.0],[12.5,7.5],[12.55,14.0],[12.6,8.0],[12.65,12.8],[12.7,8.5],[12.75,13.7],[12.8,9.0],[12.85,12.5],[12.9,8.3],[12.95,13.0],[13.0,8.6],[13.05,11.2],[13.1,9.2]];
const D_G24 = [
 [[11.0,6.2],[11.6,6.9],[12.1,8.0],[12.6,9.8],[13.0,12.5],[13.3,15.5],[13.5,19.7]],
 [[13.55,18.3],[13.8,13.0],[14.1,9.5],[14.5,7.2],[15.0,5.7],[15.6,4.8],[16.3,4.2],[17.0,3.9],[17.8,3.8],[18.5,4.1],[19.0,4.6]]
];
const D_G25 = [[[14.75,9.7],[15.0,8.3],[15.4,6.6],[15.9,5.2],[16.5,4.2],[17.2,3.4],[18.0,2.8],[18.8,2.3]]];
const D_G27 = [[[6.5,2.2],[7.3,2.6],[8.1,3.5],[8.9,5.0],[9.7,7.2],[10.3,9.7],[10.8,13.0],[11.1,17.0],[11.3,21.1]]];
const D_G28 = [
 [[9.5,6.5],[10.3,6.2],[11.0,6.6],[11.6,7.8],[12.0,10.0],[12.3,13.0],[12.6,17.0]],
 [[11.3,5.9],[12.0,5.6],[12.7,5.5],[13.3,5.6],[13.9,6.4],[14.5,7.8],[15.0,9.0],[15.5,9.6]]
];
const D_G29 = [
 [[10.0,5.2],[10.9,6.3],[11.6,7.8],[12.1,10.0],[12.5,13.5],[12.9,19.7]],
 [[22.6,3.6],[23.0,2.8],[23.5,2.2],[24.0,1.9]]
];
const D_G30 = [[[22.3,3.2],[22.6,2.6],[22.9,2.3],[23.3,2.2],[23.7,2.5],[24.0,2.8]]];
const D_G31 = [
 [[2.0,3.6],[2.5,2.8],[3.2,2.0],[4.0,1.4],[4.8,1.1]],
 [[20.0,4.3],[20.3,3.5],[20.7,2.6],[21.2,2.0],[21.8,1.6],[22.5,1.3],[23.2,1.2],[24.0,1.1]]
];

// ---------------- panel (c): 2003/10/27 unfiltered ----------------
const C_G01 = [
 [[0.0,2.5],[0.1,1.2],[0.2,3.4],[0.3,0.8],[0.4,2.9],[0.5,1.5],[0.6,4.6],[0.7,1.1],[0.8,3.2],[0.9,2.0],[1.0,5.1],[1.1,7.7],[1.15,1.6],[1.25,3.8],[1.35,1.2],[1.45,2.9],[1.55,0.9],[1.65,2.4],[1.75,1.3],[1.85,3.1],[1.95,0.7],[2.05,2.0],[2.15,1.1],[2.25,2.6],[2.35,0.6],[2.45,1.8],[2.55,0.9],[2.65,2.3],[2.75,0.5],[2.85,1.7]],
 [[5.0,1.5],[5.1,2.8],[5.2,1.7],[5.3,3.3],[5.4,2.0],[5.5,4.1],[5.6,2.3],[5.7,3.8],[5.8,2.6],[5.9,5.4],[6.0,3.0],[6.1,4.9],[6.2,3.6],[6.3,6.9],[6.4,4.3],[6.5,7.5],[6.6,5.9],[6.7,11.5],[6.75,7.3],[6.85,9.2],[6.95,8.1],[7.05,13.7],[7.1,10.3],[7.15,15.5],[7.22,13.5],[7.3,17.8]],
 [[8.9,6.5],[9.0,9.0],[9.1,7.2],[9.2,10.4],[9.3,7.9],[9.4,9.6],[9.5,8.2],[9.6,11.0],[9.7,8.6],[9.8,9.9],[9.9,7.6],[10.0,10.3],[10.1,8.3],[10.2,9.1],[10.3,7.4],[10.4,8.8],[10.5,7.2],[10.6,9.5],[10.7,7.7],[10.8,10.1],[10.9,8.0],[11.0,9.3],[11.1,8.4],[11.2,10.8],[11.3,8.9],[11.4,9.6],[11.5,8.1],[11.6,10.5],[11.7,9.0],[11.8,12.2],[11.9,9.5],[12.0,11.0]],
 [[18.6,4.8],[18.7,3.1],[18.8,4.2],[18.9,2.5],[19.0,5.7],[19.1,2.2],[19.2,3.5],[19.3,1.9],[19.4,8.5],[19.45,2.8],[19.55,1.5],[19.65,3.2],[19.75,1.2],[19.85,2.6],[19.95,1.0],[20.05,2.3],[20.15,1.4],[20.25,3.0],[20.35,0.9],[20.45,2.1],[20.55,1.2]],
 [[23.2,1.5],[23.3,2.9],[23.4,1.0],[23.5,3.6],[23.6,1.4],[23.7,2.4],[23.8,0.9],[23.9,3.0],[24.0,1.8]]
];
const C_G02 = [
 [[0.0,3.1],[0.1,1.6],[0.2,2.4],[0.3,0.9],[0.4,2.1],[0.5,1.1],[0.6,2.7],[0.7,0.6],[0.8,1.8],[0.9,0.8],[1.0,2.2],[1.1,0.5],[1.2,1.6]],
 [[4.4,0.4],[4.5,2.1],[4.6,0.9],[4.7,3.3],[4.8,1.2],[4.9,4.6],[5.0,1.9],[5.1,8.2],[5.15,3.0],[5.25,5.3],[5.35,2.4],[5.45,4.9],[5.55,2.0],[5.65,6.1],[5.75,3.1],[5.85,7.3],[5.95,3.5],[6.05,5.6],[6.15,3.2],[6.25,7.8],[6.35,4.1],[6.45,6.4],[6.55,4.6],[6.65,8.5],[6.75,5.2],[6.85,9.9],[6.95,6.4],[7.05,10.8],[7.15,7.5],[7.25,12.6],[7.3,8.0]],
 [[16.6,6.5],[16.7,3.3],[16.8,5.2],[16.9,2.9],[17.0,4.6],[17.1,2.5],[17.2,4.1],[17.3,2.2],[17.4,3.8],[17.5,2.1],[17.6,3.4],[17.7,1.9],[17.8,4.6],[17.9,1.7],[18.0,3.9],[18.1,1.5],[18.2,3.2],[18.3,1.4],[18.4,2.7]],
 [[23.3,2.5],[23.4,4.6],[23.5,1.8],[23.6,6.2],[23.7,2.2],[23.8,8.1],[23.85,3.1],[23.95,5.9],[24.0,2.8]]
];
const C_G03 = [
 [[0.0,4.9],[0.05,1.4],[0.15,3.6],[0.25,0.8],[0.35,2.9],[0.45,1.0],[0.55,2.6],[0.65,1.3],[0.75,3.3],[0.85,0.9],[0.95,2.2]],
 [[2.7,1.6],[2.8,3.1],[2.9,1.9],[3.0,3.6],[3.1,2.2],[3.2,3.9],[3.3,2.6],[3.4,3.1],[3.5,1.8],[3.6,3.5],[3.7,2.7],[3.8,3.9],[3.9,2.9],[4.0,3.6]],
 [[16.3,10.6],[16.4,6.3],[16.5,8.0],[16.6,4.9],[16.7,7.2],[16.8,4.1],[16.9,5.6],[17.0,3.6],[17.1,4.8],[17.2,3.1],[17.3,4.2],[17.4,2.8],[17.5,3.7],[17.6,2.5],[17.7,3.3],[17.8,2.3],[17.9,2.9],[18.0,2.1],[18.2,2.6],[18.4,2.0],[18.6,2.4],[18.8,1.8],[19.0,2.2],[19.2,1.7],[19.4,2.0],[19.6,1.6],[19.8,1.9],[20.0,1.5],[20.2,1.8],[20.4,1.4],[20.6,1.8],[20.8,1.5],[21.0,2.0],[21.2,1.4],[21.4,1.9],[21.6,1.3],[21.8,2.1],[22.0,1.2]],
 [[22.1,3.9],[22.2,1.6],[22.3,2.8],[22.4,1.0],[22.5,2.5],[22.6,0.8],[22.7,2.1],[22.8,1.1],[22.9,2.8],[23.0,1.3],[23.1,3.4],[23.2,1.6],[23.3,2.6],[23.4,1.2],[23.5,3.8],[23.6,1.5],[23.7,2.9],[23.8,1.4],[23.9,4.3],[24.0,2.1]]
];
const C_G04 = [
 [[0.2,2.6],[0.3,1.1],[0.4,3.3],[0.5,0.9],[0.6,2.4],[0.7,1.3],[0.8,2.9],[0.9,0.7],[1.0,2.0],[1.1,1.2],[1.2,3.6],[1.3,0.8],[1.4,2.3],[1.5,1.0],[1.6,2.8],[1.7,0.6],[1.8,1.9],[1.9,1.0],[2.0,3.1],[2.1,0.7],[2.2,2.2],[2.3,0.9],[2.4,2.6],[2.5,1.3],[2.6,3.4],[2.7,1.0],[2.8,2.5]],
 [[6.2,2.0],[6.3,4.5],[6.4,2.6],[6.5,5.3],[6.6,3.1],[6.7,6.0],[6.8,3.7],[6.9,7.3],[7.0,4.4],[7.1,8.5],[7.2,5.3],[7.3,9.3],[7.35,6.0]],
 [[19.2,3.0],[19.3,1.4],[19.4,2.6],[19.5,1.0],[19.6,2.2],[19.7,0.8],[19.8,1.9],[19.9,0.6],[20.0,2.4],[20.1,1.1],[20.2,1.7],[20.3,0.5],[20.4,2.0],[20.5,0.9],[20.6,1.5],[20.7,0.4],[20.8,1.8],[20.9,1.0],[21.0,2.3],[21.1,0.7],[21.2,1.6],[21.3,0.9],[21.4,2.1],[21.5,1.2],[21.6,1.7],[21.7,0.8],[21.8,2.0],[21.9,1.1],[22.0,1.6],[22.1,0.9],[22.2,1.4],[22.3,0.7],[22.4,1.8],[22.5,1.0],[22.6,1.5],[22.7,0.8],[22.8,1.9],[22.9,1.2],[23.0,1.6],[23.1,0.9],[23.2,1.4],[23.3,0.8],[23.4,1.7],[23.5,1.1],[23.6,1.5],[23.7,0.7],[23.8,1.3],[23.9,0.9],[24.0,1.4]]
];
const C_G05 = [
 [[3.9,7.0],[3.95,3.2],[4.05,5.1],[4.15,1.9],[4.25,3.6],[4.35,0.8],[4.45,2.4],[4.55,0.4],[4.65,1.8],[4.75,0.2],[4.85,1.5],[4.95,0.6],[5.05,2.0],[5.15,0.9],[5.25,1.7],[5.35,1.1],[5.45,2.3],[5.55,1.3],[5.65,2.0],[5.75,1.6],[5.85,2.8],[5.95,1.8],[6.05,2.6],[6.15,2.1],[6.25,3.5],[6.35,2.4],[6.45,3.3],[6.55,2.8],[6.65,4.3],[6.75,3.2],[6.85,4.9],[6.95,3.7],[7.05,5.6],[7.15,4.3],[7.25,6.6],[7.35,5.0],[7.45,7.9],[7.55,5.8],[7.65,9.3],[7.75,6.6],[7.85,10.1],[7.95,7.2]],
 [[12.4,7.9],[12.6,7.3],[12.8,7.4],[13.0,6.8],[13.2,6.9],[13.4,6.3],[13.6,6.4],[13.8,5.8],[14.0,5.8],[14.2,5.3],[14.4,5.3],[14.6,4.9],[14.8,4.9],[15.0,4.5],[15.2,4.5],[15.4,4.2],[15.6,4.1],[15.8,3.9],[16.0,3.9],[16.2,3.6],[16.4,3.7],[16.6,3.4],[16.8,3.5],[17.0,3.2],[17.2,3.3],[17.4,3.0],[17.6,3.1],[17.7,10.3],[17.75,3.0],[17.9,2.8],[18.1,2.9],[18.3,2.6]]
];
const C_G06 = [
 [[0.5,2.0],[0.6,4.3],[0.7,1.5],[0.8,5.8],[0.85,7.7],[0.9,2.1],[1.0,4.0],[1.1,1.2],[1.2,3.2],[1.3,0.8]],
 [[3.8,1.0],[3.9,4.1],[4.0,1.5],[4.1,2.8],[4.2,0.4],[4.25,7.2],[4.3,2.1],[4.4,3.5],[4.5,0.8]],
 [[13.8,8.5],[13.85,16.0],[13.9,23.1],[13.95,12.0],[14.05,9.4],[14.15,12.4],[14.25,8.6],[14.3,14.4],[14.4,9.1],[14.5,7.5],[14.6,11.8],[14.7,7.0],[14.8,9.6],[14.9,6.6],[15.0,8.4],[15.1,14.5],[15.15,7.0],[15.25,9.1],[15.35,6.3],[15.45,7.8],[15.55,5.8],[15.65,7.2],[15.75,5.4],[15.85,6.6],[15.95,5.0],[16.05,6.2],[16.15,4.6],[16.25,5.6],[16.35,4.3],[16.45,5.3]],
 [[18.6,2.8],[18.7,6.0],[18.8,2.5],[18.9,8.6],[18.95,3.1],[19.05,5.4],[19.15,2.2],[19.25,7.3],[19.3,3.0],[19.4,10.0],[19.45,2.6],[19.55,4.9],[19.65,1.9],[19.75,3.8],[19.85,1.5],[19.95,4.3],[20.05,1.2],[20.15,3.1],[20.3,0.9],[20.4,2.4],[20.45,30.5],[20.5,1.6],[20.6,2.9],[20.7,1.0]]
];
const C_G07 = [
 [[0.3,2.4],[0.4,6.7],[0.45,1.2],[0.55,5.5],[0.6,0.9],[0.7,3.7],[0.8,1.4],[0.9,2.9],[1.0,0.6],[1.1,2.2],[1.2,1.0],[1.3,3.1],[1.4,0.8],[1.5,2.0],[1.6,1.1],[1.7,2.6],[1.8,0.7],[1.9,1.6],[2.0,0.9],[2.1,2.4],[2.2,1.3]],
 [[3.4,2.1],[3.5,3.5],[3.6,2.4],[3.7,3.9],[3.8,2.7],[3.9,3.4],[4.0,2.2],[4.1,4.1],[4.2,2.6],[4.3,3.2]],
 [[5.5,2.0],[5.7,2.6],[5.9,2.3],[6.1,2.9],[6.3,2.7],[6.5,3.3],[6.7,3.1],[6.9,3.7],[7.1,3.5],[7.3,4.1],[7.5,3.9],[7.7,4.5],[7.9,4.3],[8.1,4.9],[8.3,4.6],[8.5,5.6],[8.6,4.9],[8.8,5.9],[8.9,5.0],[9.1,5.6],[9.3,5.2],[9.5,5.8],[9.7,5.4],[9.9,5.9],[10.1,5.6],[10.3,6.0],[10.5,5.8],[10.7,6.1],[10.9,6.0],[11.1,6.3],[11.3,6.2],[11.5,6.4],[11.7,6.1]],
 [[10.4,8.5],[10.5,12.9],[10.6,10.2],[10.7,12.1],[10.8,9.3],[10.9,11.4],[11.0,9.0],[11.1,10.4],[11.2,8.3],[11.3,9.6],[11.4,7.8],[11.5,9.0],[11.6,7.6],[11.7,8.6],[11.8,7.4],[11.9,8.9],[12.0,7.7],[12.1,8.4],[12.2,7.6],[12.3,9.2],[12.4,7.9],[12.5,8.8],[12.6,8.3],[12.7,9.9],[12.8,9.2],[12.9,11.6],[13.0,10.4],[13.1,13.4],[13.2,12.0],[13.3,18.2],[13.35,16.4],[13.4,13.1]],
 [[17.5,3.4],[17.7,3.0],[17.9,3.2],[18.1,2.7],[18.3,2.9],[18.5,2.4],[18.7,2.6],[18.9,2.1],[19.1,2.3],[19.3,1.9],[19.5,2.1],[19.7,1.7],[19.9,1.9],[20.1,1.6],[20.3,1.8],[20.5,1.5],[20.7,1.7]]
];
const C_G08 = [
 [[4.6,1.5],[4.8,2.4],[5.0,1.8],[5.2,2.9],[5.4,2.2],[5.6,3.4],[5.8,2.6],[6.0,3.8],[6.2,3.0],[6.4,4.3],[6.6,3.5],[6.8,5.0],[7.0,4.1],[7.2,5.6],[7.4,4.8],[7.6,6.3],[7.8,5.6],[8.0,7.4],[8.2,6.3],[8.4,8.6],[8.6,7.3],[8.8,10.2],[9.0,8.6],[9.2,12.0]],
 [[9.3,12.4],[9.4,14.8],[9.5,12.6],[9.6,17.8],[9.7,14.2],[9.8,19.5],[9.9,16.6],[10.0,21.6],[10.05,19.0],[10.1,29.2],[10.15,15.0],[10.25,17.2],[10.35,13.9],[10.45,16.4],[10.55,13.2],[10.65,15.9],[10.75,14.1],[10.85,18.8],[10.95,15.7],[11.05,20.5],[11.1,17.4],[11.2,12.6]],
 [[20.7,3.0],[20.8,5.6],[20.9,2.1],[21.0,8.5],[21.05,3.5],[21.15,4.8],[21.25,1.6],[21.35,3.4]]
];
const C_G09 = [
 [[7.6,5.5],[7.7,7.1],[7.8,5.9],[7.9,8.0],[8.0,6.3],[8.1,7.5],[8.2,6.0],[8.3,7.9],[8.4,6.5],[8.5,7.2],[8.6,6.1],[8.7,7.6],[8.8,6.7],[8.9,8.1]],
 [[11.6,5.9],[11.8,6.1],[12.0,5.6],[12.2,5.9],[12.4,5.5],[12.6,5.8],[12.8,5.4],[13.0,5.7],[13.2,5.3],[13.4,5.6],[13.6,5.2],[13.8,5.5],[14.0,5.1],[14.2,5.4],[14.4,5.0]]
];
const C_G10 = [
 [[9.6,9.3],[9.7,11.6],[9.8,10.0],[9.9,13.2],[10.0,11.1],[10.1,15.0],[10.15,12.5],[10.2,17.6],[10.3,14.0],[10.4,17.9],[10.45,15.6],[10.5,20.7],[10.55,16.2],[10.6,18.4]],
 [[6.5,2.3],[6.7,2.9],[6.9,2.6],[7.1,3.4],[7.3,3.1],[7.5,3.9],[7.6,2.6],[7.7,4.2],[7.9,4.0],[8.1,4.7],[8.3,4.5],[8.5,5.2],[8.7,5.0],[8.9,5.6],[9.1,5.4],[9.3,6.1],[9.5,6.0]]
];
const C_G11 = [
 [[3.5,1.3],[3.6,3.0],[3.7,1.8],[3.8,4.6],[3.85,11.9],[3.9,2.6],[4.0,3.8],[4.1,1.2],[4.2,2.9],[4.3,0.7]],
 [[12.6,8.4],[12.7,10.0],[12.8,8.9],[12.9,11.3],[13.0,9.6],[13.1,12.9],[13.15,10.1],[13.25,11.0],[13.35,9.2],[13.45,10.4],[13.55,8.6]],
 [[13.6,6.6],[13.9,6.1],[14.2,6.0],[14.5,5.4],[14.8,5.1],[15.1,4.6],[15.4,4.4],[15.7,3.9],[16.0,3.8],[16.3,3.4],[16.6,3.4],[16.9,2.9],[17.2,2.9],[17.5,2.5],[17.8,2.5],[18.1,2.2]]
];
const C_G13 = [[[7.6,7.4],[7.7,10.3],[7.8,8.6],[7.9,12.4],[8.0,10.0],[8.1,15.2],[8.15,12.2],[8.2,25.5],[8.25,16.3],[8.35,19.2],[8.4,14.8],[8.5,18.3],[8.55,15.9],[8.65,20.1],[8.7,16.6],[8.8,21.0],[8.85,15.1],[8.95,18.7],[9.0,14.9],[9.1,19.2],[9.15,16.0],[9.25,19.9],[9.3,16.8],[9.4,18.5],[9.45,13.2],[9.55,15.5]]];
const C_G14 = [
 [[15.5,6.3],[15.6,9.0],[15.7,6.9],[15.8,10.5],[15.9,7.5],[16.0,12.6],[16.05,8.3],[16.1,14.8],[16.15,9.0],[16.25,11.7],[16.3,8.4],[16.4,20.0],[16.45,10.6],[16.55,8.3],[16.65,10.9],[16.75,7.2]],
 [[22.1,2.6],[22.2,4.5],[22.3,2.0],[22.4,6.1],[22.5,2.8],[22.6,8.7],[22.65,3.3],[22.75,5.2],[22.85,2.1],[22.95,3.9],[23.05,1.6]]
];
const C_G15 = [[[17.6,3.4],[17.7,5.6],[17.8,3.1],[17.9,6.8],[17.95,7.6],[18.0,3.6],[18.1,6.5],[18.2,3.0],[18.3,5.0],[18.4,2.7],[18.5,4.4],[18.6,2.2]]];
const C_G16 = [
 [[5.3,2.0],[5.4,4.2],[5.5,2.3],[5.6,5.1],[5.7,3.0],[5.75,14.0],[5.8,3.8],[5.9,6.4],[6.0,3.3],[6.1,9.5],[6.15,5.0],[6.25,7.1],[6.35,4.2]],
 [[16.4,4.9],[16.5,6.6],[16.6,4.4],[16.7,9.8],[16.75,5.2],[16.85,7.4],[16.95,4.7],[17.05,11.0],[17.1,5.6],[17.2,7.2],[17.3,4.2]],
 [[21.7,1.5],[21.8,3.8],[21.9,1.2],[22.0,5.0],[22.05,1.9],[22.15,7.0],[22.2,2.4],[22.3,4.1],[22.4,1.4]]
];
const C_G17 = [
 [[8.9,8.4],[9.0,12.2],[9.1,9.3],[9.2,15.6],[9.25,11.0],[9.35,13.2]],
 [[19.0,1.2],[19.1,2.8],[19.2,0.6],[19.3,4.3],[19.4,1.1],[19.5,2.5]]
];
const C_G18 = [[[0.3,3.8],[0.4,1.6],[0.5,3.0],[0.6,1.0],[0.7,2.5],[0.8,0.9],[0.9,3.4]]];
const C_G21 = [[[8.9,6.8],[9.0,9.4],[9.1,7.2],[9.2,10.6],[9.3,8.0],[9.4,11.8],[9.45,8.5],[9.55,9.9],[9.65,7.8]]];
const C_G23 = [
 [[10.8,8.0],[10.9,10.1],[11.0,7.6],[11.1,9.4],[11.2,4.9],[11.3,8.7],[11.4,6.8],[11.5,9.9],[11.6,7.3],[11.7,10.6],[11.8,8.2],[11.9,9.3],[12.0,7.4],[12.1,10.8],[12.2,8.5],[12.3,9.6],[12.4,7.9],[12.5,11.4],[12.6,8.8],[12.7,10.2],[12.8,8.0]],
 [[13.5,7.8],[13.6,9.5],[13.7,7.4],[13.8,8.6],[13.9,6.9],[14.0,8.0],[14.1,6.6],[14.2,7.5],[14.3,6.2],[14.4,7.1],[14.5,5.9]]
];
const C_G24 = [[[12.9,7.4],[13.0,9.8],[13.1,7.6],[13.2,12.3],[13.3,8.3],[13.4,14.9],[13.5,17.5],[13.55,9.6],[13.65,13.3],[13.75,8.4],[13.85,11.1],[13.95,7.6],[14.05,9.4],[14.15,6.9],[14.25,8.2],[14.35,6.4],[14.45,7.4],[14.55,5.9],[14.65,6.9],[14.75,5.5],[14.85,6.5],[14.95,5.2],[15.05,6.0],[15.15,4.9],[15.25,5.7],[15.35,4.7],[15.45,5.3],[15.55,4.4],[15.65,5.1],[15.75,4.2],[15.85,4.9],[15.95,4.0],[16.05,4.6]]];
const C_G25 = [[[14.4,7.8],[14.5,10.0],[14.6,7.1],[14.7,8.9],[14.8,6.4],[14.9,8.1],[15.0,5.9],[15.1,7.4],[15.2,5.5],[15.3,6.8],[15.4,5.1]]];
const C_G27 = [[[12.6,8.5],[12.7,11.2],[12.8,9.4],[12.9,13.0],[13.0,10.6],[13.1,15.2],[13.2,12.0],[13.3,20.1],[13.38,28.3],[13.42,16.5],[13.5,12.0]]];
const C_G28 = [
 [[10.7,9.4],[10.8,12.0],[10.9,9.8],[11.0,11.2],[11.1,8.9],[11.2,13.5],[11.3,10.2],[11.4,12.4],[11.5,9.6],[11.6,14.6],[11.7,11.2],[11.8,15.5],[11.9,11.0],[12.0,13.4],[12.1,10.6],[12.2,16.8],[12.25,12.0],[12.3,19.3],[12.35,12.8],[12.45,14.9],[12.55,11.9],[12.6,15.8]],
 [[15.0,5.6],[15.1,8.4],[15.2,5.9],[15.3,9.6],[15.4,6.3],[15.5,10.7],[15.55,7.0],[15.65,14.8],[15.7,8.1],[15.8,10.2]]
];
const C_G29 = [[[11.6,8.3],[11.7,10.4],[11.8,8.8],[11.9,11.8],[12.0,9.4],[12.1,13.1],[12.2,10.2],[12.3,14.6],[12.4,11.1],[12.5,16.4],[12.6,12.5],[12.7,19.6],[12.75,14.0],[12.8,23.0],[12.85,15.2],[12.9,17.6]]];
const C_G30 = [[[18.2,3.0],[18.3,5.4],[18.4,2.6],[18.5,7.8],[18.55,9.6],[18.6,4.0],[18.7,6.3],[18.8,2.3],[18.9,4.1],[19.0,1.8]]];
const C_G31 = [
 [[1.2,2.0],[1.3,4.1],[1.4,1.4],[1.5,3.6],[1.55,7.4],[1.6,2.6],[1.7,4.8],[1.8,1.1],[1.9,2.7],[2.0,0.6],[2.1,3.1],[2.2,1.0],[2.3,2.3],[2.4,0.8],[2.5,4.9],[2.55,7.3],[2.6,1.8],[2.7,3.3],[2.8,0.9],[2.9,2.1]],
 [[19.9,2.6],[20.0,5.3],[20.05,1.4],[20.15,3.6],[20.25,0.9],[20.35,2.8],[20.45,0.5],[20.55,2.1]]
];

// ---------------- assembly ----------------
const PANEL_A = {G01:A_G01,G02:A_G02,G03:A_G03,G04:A_G04,G05:A_G05,G06:A_G06,G07:A_G07,G08:A_G08,G09:A_G09,G10:A_G10,G11:A_G11,G13:A_G13,G14:A_G14,G15:A_G15,G18:A_G18,G20:A_G20,G23:A_G23,G24:A_G24,G25:A_G25,G26:A_G26,G27:A_G27,G28:A_G28,G30:A_G30,G31:A_G31};
const PANEL_B = {G01:B_G01,G02:B_G02,G03:B_G03,G04:B_G04,G05:B_G05,G06:B_G06,G07:B_G07,G08:B_G08,G09:B_G09,G10:B_G10,G11:B_G11,G13:B_G13,G14:B_G14,G15:B_G15,G18:B_G18,G20:B_G20,G22:B_G22,G23:B_G23,G24:B_G24,G25:B_G25,G26:B_G26,G27:B_G27,G28:B_G28,G30:B_G30,G31:B_G31};
const PANEL_C = {G01:C_G01,G02:C_G02,G03:C_G03,G04:C_G04,G05:C_G05,G06:C_G06,G07:C_G07,G08:C_G08,G09:C_G09,G10:C_G10,G11:C_G11,G13:C_G13,G14:C_G14,G15:C_G15,G16:C_G16,G17:C_G17,G18:C_G18,G21:C_G21,G23:C_G23,G24:C_G24,G25:C_G25,G27:C_G27,G28:C_G28,G29:C_G29,G30:C_G30,G31:C_G31};
const PANEL_D = {G01:D_G01,G02:D_G02,G03:D_G03,G04:D_G04,G05:D_G05,G06:D_G06,G07:D_G07,G08:D_G08,G09:D_G09,G10:D_G10,G11:D_G11,G13:D_G13,G14:D_G14,G15:D_G15,G16:D_G16,G17:D_G17,G18:D_G18,G20:D_G20,G21:D_G21,G23:D_G23,G24:D_G24,G25:D_G25,G27:D_G27,G28:D_G28,G29:D_G29,G30:D_G30,G31:D_G31};
const RAW_A = [['G01',A_BAND]];
const RAW_B = [['G01',B_BAND]];
const RAW_C = [];
const RAW_D = [['G02',D_GREEN_BAND],['G23',D_MAG_ZIG]];

// styles: [colour, dashed]
const STYLE_AB = {G01:['#ff0000',0],G02:['#00dd00',0],G03:['#1f5cff',0],G04:['#ff55ff',0],G05:['#33ffff',0],G06:['#ffa000',0],G07:['#000000',0],G08:['#888888',0],G09:['#ff0000',1],G10:['#22ee22',1],G11:['#4a78ff',1],G13:['#ff22ff',1],G14:['#22eeff',1],G15:['#ffa000',1],G18:['#000000',1],G20:['#888888',1],G22:['#ff7070',0],G23:['#55ff55',0],G24:['#2f6fff',0],G25:['#ff00ff',0],G26:['#00ffff',0],G27:['#ffaa22',0],G28:['#555555',0],G29:['#aaaaaa',0],G30:['#ff4444',1],G31:['#33dd33',1]};
const STYLE_CD = {G01:['#ff0000',0],G02:['#00ee00',0],G03:['#4d7fff',0],G04:['#ff55ff',0],G05:['#33ffff',0],G06:['#ffa000',0],G07:['#000000',0],G08:['#999999',0],G09:['#ff4040',1],G10:['#33ee33',1],G11:['#2a5fff',1],G13:['#ff00ff',1],G14:['#22ffff',1],G15:['#ffa000',1],G16:['#000000',1],G17:['#999999',1],G18:['#ff7070',0],G20:['#66ee66',0],G21:['#3a6fff',0],G23:['#ee00ee',0],G24:['#22eeff',0],G25:['#ffb040',0],G26:['#555555',0],G27:['#aaaaaa',0],G28:['#ff5050',1],G29:['#00ee00',1],G30:['#1a4fff',1],G31:['#ff33ff',1]};

const FONT = 'DejaVu Serif';
const panels = [
 {key:'a', grid:{left:83,top:52,width:321,height:301}, data:PANEL_A, raw:RAW_A, smooth:false, lw:1.8, sats:satsAB, styles:STYLE_AB, legX:[412,513], legTop:54, gap:6.2, rows:13, titleY:14, xGap:44, tagY:428},
 {key:'b', grid:{left:688,top:52,width:320,height:301}, data:PANEL_B, raw:RAW_B, smooth:true, lw:1, sats:satsAB, styles:STYLE_AB, legX:[1017,1118], legTop:54, gap:6.2, rows:13, titleY:14, xGap:44, tagY:428},
 {key:'c', grid:{left:83,top:522,width:321,height:303}, data:PANEL_C, raw:RAW_C, smooth:false, lw:1, sats:satsCD, styles:STYLE_CD, legX:[412,513], legTop:525, gap:6.15, rows:14, titleY:484, xGap:44, tagY:903},
 {key:'d', grid:{left:688,top:522,width:320,height:303}, data:PANEL_D, raw:RAW_D, smooth:true, lw:1, sats:satsCD, styles:STYLE_CD, legX:[1017,1118], legTop:525, gap:6.15, rows:14, titleY:484, xGap:44, tagY:903}
];

const grids=[], xAxes=[], yAxes=[], series=[], legends=[], titleOpts=[], graphics=[];
const axisLine = {show:true, onZero:false, lineStyle:{color:'#000', width:1}};
panels.forEach((p, i) => {
  grids.push(Object.assign({containLabel:false}, p.grid));
  const cx = p.grid.left + p.grid.width/2;
  const xBase = {type:'value', gridIndex:i, min:0, max:24, interval:2, axisLine,
    axisTick:{show:true, inside:true, length:5, lineStyle:{color:'#000'}},
    minorTick:{show:true, splitNumber:2, length:4, lineStyle:{color:'#000'}},
    splitLine:{show:false}, minorSplitLine:{show:false}};
  xAxes.push(Object.assign({}, xBase, {position:'bottom',
    axisLabel:{show:true, margin:11, color:'#000', fontFamily:FONT, fontSize:17, formatter: v => (xTickLabels[v/2] !== undefined ? xTickLabels[v/2] : '')},
    name:'time (UT h)', nameLocation:'middle', nameGap:p.xGap, nameTextStyle:{fontFamily:FONT, fontSize:18, color:'#000'}}));
  xAxes.push(Object.assign({}, xBase, {position:'top', axisLabel:{show:false}}));
  const yBase = {type:'value', gridIndex:i, min:0, max:30, interval:5, axisLine,
    axisTick:{show:true, inside:true, length:5, lineStyle:{color:'#000'}},
    minorTick:{show:true, splitNumber:5, length:3, lineStyle:{color:'#000'}},
    splitLine:{show:false}, minorSplitLine:{show:false}};
  yAxes.push(Object.assign({}, yBase, {position:'left',
    axisLabel:{show:true, margin:11, color:'#000', fontFamily:FONT, fontSize:17},
    name:yNames[i], nameLocation:'middle', nameGap:41, nameRotate:90,
    nameTextStyle:{fontFamily:FONT, fontSize:18, color:'#000',
      rich:{sub:{fontFamily:FONT, fontSize:13, color:'#000', padding:[9,0,0,0]},
            sup:{fontFamily:FONT, fontSize:13, color:'#000', padding:[0,0,13,0]}}}}));
  yAxes.push(Object.assign({}, yBase, {position:'right', axisLabel:{show:false}}));

  const mk = (name, arc, smooth) => {
    const st = p.styles[name];
    return {type:'line', name: p.key+':'+name, xAxisIndex:2*i, yAxisIndex:2*i, data:arc,
      symbol:'none', showSymbol:false, smooth: smooth ? 0.3 : false, smoothMonotone: smooth ? 'x' : undefined,
      clip:true, silent:true, animation:false, emphasis:{disabled:true},
      itemStyle:{color:st[0]},
      lineStyle:{color:st[0], width:p.lw, type: st[1] ? [3,2] : 'solid'}};
  };
  p.sats.forEach(n => {
    const arcs = p.data[n] && p.data[n].length ? p.data[n] : [[]];
    arcs.forEach(arc => series.push(mk(n, arc, p.smooth && arc.length > 2)));
  });
  p.raw.forEach(([n, arc]) => series.push(mk(n, arc, false)));

  [0,1].forEach(col => {
    legends.push({
      data: p.sats.slice(col*p.rows, (col+1)*p.rows).map(n => p.key+':'+n),
      orient:'vertical', left:p.legX[col], top:p.legTop, padding:0,
      itemWidth:30, itemHeight:14, itemGap:p.gap, align:'right', selectedMode:false,
      formatter: nm => nm.split(':')[1],
      textStyle:{fontFamily:FONT, fontSize:18, color:'#000', lineHeight:14, padding:[0,7,0,0]},
      itemStyle:{opacity:0, borderWidth:0},
      lineStyle:{width:2}
    });
  });
  titleOpts.push({text:titles[i], left:cx, top:p.titleY, textAlign:'center', padding:0,
    textStyle:{fontFamily:FONT, fontSize:18, fontWeight:'normal', color:'#000'}});
  graphics.push({type:'text', x:cx+70, y:p.tagY, style:{text:tags[i], fontFamily:'DejaVu Sans', fontStyle:'italic', fontSize:20, fill:'#222', align:'center', verticalAlign:'middle'}});
});

const chart = echarts.init(document.getElementById('c'), null, {renderer:'canvas'});
chart.setOption({
  backgroundColor:'#ffffff', animation:false,
  title:titleOpts, grid:grids, xAxis:xAxes, yAxis:yAxes, legend:legends, series, graphic:graphics
});
</script></body></html>
